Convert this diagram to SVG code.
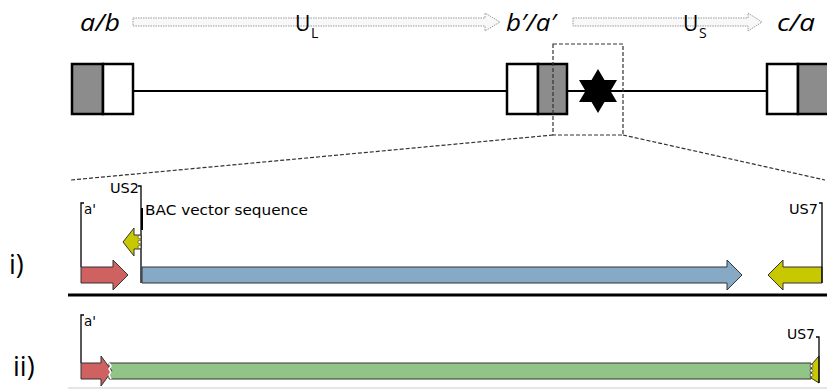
<svg xmlns="http://www.w3.org/2000/svg" width="827" height="390" viewBox="0 0 827 390">
<defs>
<style>
.lbl{font-family:"Open Sans","Liberation Sans",sans-serif;fill:#000}
.it{font-family:"Open Sans","Liberation Sans",sans-serif;font-style:italic;font-size:24px;fill:#000}
.sm{font-family:"DejaVu Sans","Liberation Sans",sans-serif;font-size:13.5px;fill:#000}
.hollow{fill:#f8f8f8;stroke:#999;stroke-width:1;stroke-dasharray:1.5 1}
.box{stroke:#000;stroke-width:2.5}
.dash{fill:none;stroke:#333;stroke-width:1.2;stroke-dasharray:4 2}
.arr{stroke:#333;stroke-width:1}
.tick{fill:none;stroke:#000;stroke-width:1.3}
.zz{fill:#fff;stroke:#333;stroke-width:0.6}
</style>
</defs>

<g id="top-labels">
<text class="it" x="80" y="31" textLength="40" lengthAdjust="spacingAndGlyphs">a/b</text>
<text class="it" x="506" y="31" textLength="50" lengthAdjust="spacingAndGlyphs">b′/a′</text>
<text class="it" x="777" y="31" textLength="38" lengthAdjust="spacingAndGlyphs">c/a</text>
<polygon class="hollow" points="133,18 485,18 485,13 500,22 485,31 485,26 133,26"/>
<polygon class="hollow" points="573,18 748,18 748,13 762,22 748,31 748,26 573,26"/>
<text class="lbl" x="295" y="31" font-size="21">U</text>
<text class="lbl" x="311" y="38" font-size="14">L</text>
<text class="lbl" x="683" y="31" font-size="21">U</text>
<text class="lbl" x="699" y="38" font-size="14">S</text>
</g>

<g id="genome">
<line x1="133" y1="91" x2="767" y2="91" stroke="#000" stroke-width="2"/>
<g id="box-left">
<rect class="box" x="72" y="64" width="31" height="50" fill="#8c8c8c"/>
<rect class="box" x="103" y="64" width="30" height="50" fill="#fff"/>
</g>
<g id="box-mid">
<rect class="box" x="507" y="64" width="31" height="50" fill="#fff"/>
<rect class="box" x="538" y="64" width="29" height="50" fill="#8c8c8c"/>
</g>
<g id="box-right">
<rect class="box" x="767" y="64" width="31" height="50" fill="#fff"/>
<rect class="box" x="798" y="64" width="31" height="50" fill="#8c8c8c"/>
</g>
<g id="star">
<polygon points="598,69 604.5,80 617,80 610.5,91 617,102 604.5,102 598,113 591.5,102 579,102 585.5,91 579,80 591.5,80" fill="#000"/>
</g>
<rect class="dash" x="553" y="44" width="70" height="91"/>
</g>

<g id="connectors">
<line class="dash" x1="553" y1="135" x2="71" y2="180"/>
<line class="dash" x1="623" y1="135" x2="825" y2="180"/>
</g>

<g id="section-i">
<text class="lbl" x="9" y="274" font-size="27">i)</text>
<polyline class="tick" points="81,267 81,203 84,203"/>
<text class="sm" x="84" y="214">a'</text>
<polygon class="arr" fill="#cf6161" points="81,267 113,267 113,260 128,275 113,290 113,283 81,283"/>
<text class="sm" x="110" y="193" textLength="29" lengthAdjust="spacingAndGlyphs">US2</text>
<polyline class="tick" points="138,186 141,186 141,283"/>
<line x1="142" y1="208" x2="142" y2="230" stroke="#000" stroke-width="2"/>
<text class="sm" x="145" y="215" font-size="15" textLength="163" lengthAdjust="spacingAndGlyphs">BAC vector sequence</text>
<polygon class="arr" fill="#c8c800" points="141,235 134,235 134,228 123,242 134,256 134,249 141,249"/>
<circle class="zz" cx="139.5" cy="237" r="1.6"/>
<circle class="zz" cx="139.5" cy="242" r="1.6"/>
<circle class="zz" cx="139.5" cy="247" r="1.6"/>
<polygon class="arr" fill="#86aac6" points="142,267 727,267 727,260 742,275 727,290 727,283 142,283"/>
<polygon class="arr" fill="#c8c800" points="822,267 783,267 783,260 768,275 783,290 783,283 822,283"/>
<polyline class="tick" points="819,203 822,203 822,283"/>
<text class="sm" x="789" y="214" textLength="29" lengthAdjust="spacingAndGlyphs">US7</text>
</g>

<line x1="68" y1="295" x2="827" y2="295" stroke="#000" stroke-width="3"/>

<g id="section-ii">
<text class="lbl" x="13" y="376" font-size="27">ii)</text>
<polyline class="tick" points="81,363 81,315 84,315"/>
<text class="sm" x="84" y="326">a'</text>
<polygon class="arr" fill="#91c587" points="109,363 811,363 811,379 109,379"/>
<polygon class="arr" fill="#cf6161" points="81,363 101,363 101,356 112,371 101,386 101,379 81,379"/>
<path d="M109,363 l2,3 -2,3 2,3 -2,3 2,4" fill="none" stroke="#fff" stroke-width="1.5"/>
<polygon class="arr" fill="#c8c800" points="819,356 812,364 811,378 819,383"/>
<circle class="zz" cx="811.5" cy="366" r="1.5"/>
<circle class="zz" cx="811.5" cy="370.5" r="1.5"/>
<circle class="zz" cx="811.5" cy="375" r="1.5"/>
<polyline class="tick" points="816,337 819,337 819,383"/>
<text class="sm" x="787" y="339" textLength="28" lengthAdjust="spacingAndGlyphs">US7</text>
<line x1="68" y1="388" x2="827" y2="388" stroke="#ddd" stroke-width="1.5"/>
</g>
</svg>
